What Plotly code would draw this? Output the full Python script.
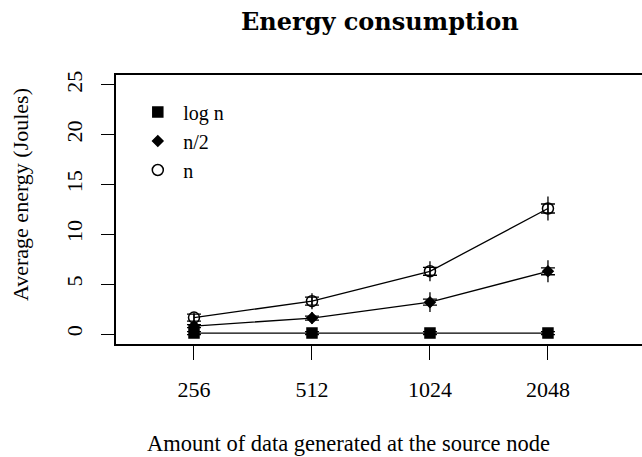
import plotly.graph_objects as go

# Data volumes generated at the source node
categories = ["256", "512", "1024", "2048"]

# Average energy (Joules) per forwarding strategy
series_names = ["log n", "n/2", "n"]
energy_logn = [0.1, 0.1, 0.1, 0.1]
energy_half = [0.8, 1.6, 3.2, 6.3]
energy_n = [1.65, 3.3, 6.3, 12.6]

# Spread around each mean: capped interval and full whisker range
ci_logn = [0.15, 0.15, 0.15, 0.15]
ci_half = [0.15, 0.2, 0.3, 0.35]
ci_n = [0.35, 0.4, 0.4, 0.45]
range_logn = [0.3, 0.3, 0.3, 0.3]
range_half = [0.3, 0.6, 1.0, 1.1]
range_n = [0.5, 0.8, 1.0, 1.2]

y_ticks = [0, 5, 10, 15, 20, 25]

FONT = "Liberation Serif, DejaVu Serif, serif"
TITLE_FONT = "DejaVu Serif, serif"
W, H = 642, 457
ML, MR, MT, MB = 116, 0, 75, 113

symbols = ["square", "diamond", "circle-open"]
sizes = [10, 8, 11]
values = [energy_logn, energy_half, energy_n]
cis = [ci_logn, ci_half, ci_n]
ranges = [range_logn, range_half, range_n]

fig = go.Figure()
for name, vals, ci, rng, sym, sz in zip(series_names, values, cis, ranges, symbols, sizes):
    fig.add_trace(go.Scatter(
        x=categories, y=vals, mode="lines",
        line=dict(color="black", width=1.3), showlegend=False, hoverinfo="skip"))
    fig.add_trace(go.Scatter(
        x=categories, y=vals, mode="markers",
        marker=dict(size=1, opacity=0), showlegend=False, hoverinfo="skip",
        error_y=dict(type="data", array=rng, visible=True, color="black",
                     thickness=1.3, width=0)))
    fig.add_trace(go.Scatter(
        x=categories, y=vals, mode="markers", name=name,
        marker=dict(symbol=sym, size=sz, color="black",
                    line=dict(color="black", width=1.5)),
        error_y=dict(type="data", array=ci, visible=True, color="black",
                     thickness=1.3, width=7)))

fig.update_layout(
    width=W, height=H,
    margin=dict(l=ML, r=MR, t=MT, b=MB),
    paper_bgcolor="white", plot_bgcolor="white",
    font=dict(family=FONT, size=21, color="black"),
    showlegend=True,
    legend=dict(x=0.031, y=0.935, xanchor="left", yanchor="top",
                bgcolor="rgba(0,0,0,0)", borderwidth=0, itemwidth=41,
                font=dict(family=FONT, size=20), tracegroupgap=0),
    xaxis=dict(type="category", range=[-0.661, 3.797],
               showline=True, mirror=True, linecolor="black", linewidth=1.5,
               ticks="outside", ticklen=14, tickwidth=1.3, tickcolor="black",
               ticklabelstandoff=11, showgrid=False, zeroline=False,
               tickfont=dict(family=FONT, size=22)),
    yaxis=dict(range=[-1, 26], tickvals=y_ticks,
               showline=True, mirror=False, linecolor="black", linewidth=1.5,
               ticks="outside", ticklen=13, tickwidth=1.3, tickcolor="black",
               tickangle=-90, ticklabelstandoff=10, showgrid=False, zeroline=False,
               tickfont=dict(family=FONT, size=22)),
    annotations=[
        dict(text="<b>Energy consumption</b>", xref="paper", yref="paper",
             x=(380 - ML) / (W - ML - MR), y=(H - MB - 21) / (H - MT - MB),
             xanchor="center", yanchor="middle", showarrow=False,
             font=dict(family=TITLE_FONT, size=24)),
        dict(text="Amount of data generated at the source node", xref="paper", yref="paper",
             x=(348 - ML) / (W - ML - MR), y=(H - MB - 443) / (H - MT - MB),
             xanchor="center", yanchor="middle", showarrow=False,
             font=dict(family=FONT, size=22.5)),
        dict(text="Average energy (Joules)", xref="paper", yref="paper",
             x=(20 - ML) / (W - ML - MR), y=(H - MB - 195) / (H - MT - MB),
             xanchor="center", yanchor="middle", showarrow=False, textangle=-90,
             font=dict(family=FONT, size=22)),
    ],
)

fig.write_html("out.html")
